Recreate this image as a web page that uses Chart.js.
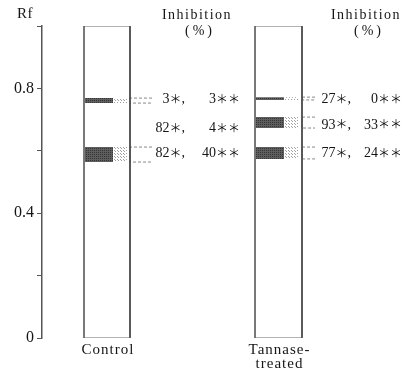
<!DOCTYPE html>
<html>
<head>
<meta charset="utf-8">
<script src="https://cdn.jsdelivr.net/npm/chart.js@4.4.1/dist/chart.umd.min.js"></script>
<style>
  html, body { margin: 0; padding: 0; background: #fff; }
  #wrap { width: 412px; height: 371px; }
</style>
</head>
<body>
<div id="wrap"><canvas id="tlc"></canvas></div>
<script>
// plates and their spots (Rf from .. to)
const plates = ['Control', 'Tannase-treated'];
const controlBands = [[0.753, 0.769], [0.564, 0.612]];
const tannaseBands = [[0.763, 0.772], [0.673, 0.708], [0.574, 0.612]];

// inhibition (%) labels, * and ** values, at the Rf they belong to
const controlRf = [0.765, 0.673, 0.592];
const controlInh1 = [3, 82, 82];
const controlInh2 = [3, 4, 40];
const tannaseRf = [0.765, 0.683, 0.592];
const tannaseInh1 = [27, 93, 77];
const tannaseInh2 = [0, 33, 24];

const rfTicks = [0, 0.4, 0.8];

// layout in x units (10 px each, from the axis)
const lanes = [
  { left: 4.2, right: 8.8, spotEnd: 7.1, dotEnd: 8.5, lead: 11.0, col1: 14.3, col2: 19.8, head: 197, names: ['Control'] },
  { left: 21.3, right: 26.0, spotEnd: 24.2, dotEnd: 25.6, lead: 27.3, col1: 30.9, col2: 36.0, head: 366, names: ['Tannase-', 'treated'] }
];

function stipple(bg, dot, step) {
  const c = document.createElement('canvas');
  c.width = step; c.height = step;
  const g = c.getContext('2d');
  g.fillStyle = bg; g.fillRect(0, 0, step, step);
  g.fillStyle = dot; g.fillRect(0, 0, 1, 1);
  if (step > 2) g.fillRect(Math.floor(step / 2), Math.floor(step / 2), 1, 1);
  return g.createPattern(c, 'repeat');
}
const darkSpot = stipple('#5e5e5e', '#353535', 2);
const faintSpot = stipple('#ffffff', '#a0a0a0', 3);

function rect(x0, x1, y0, y1) {
  return [{ x: x0, y: y0 }, { x: x1, y: y0 }, { x: x1, y: y1 }, { x: x0, y: y1 }, { x: x0, y: y0 }];
}

const datasets = [];
const bandSets = [controlBands, tannaseBands];
lanes.forEach((ln, i) => {
  datasets.push({ data: rect(ln.left, ln.right, 0, 1), borderColor: '#666', borderWidth: 1 });
  datasets.push({ data: [{ x: ln.right, y: 0 }, { x: ln.right, y: 1 }], borderColor: '#222', borderWidth: 1.6 });
  bandSets[i].forEach(b => {
    datasets.push({ data: rect(ln.left + 0.1, ln.spotEnd, b[0], b[1]), fill: 'shape', backgroundColor: darkSpot, borderWidth: 0 });
    datasets.push({ data: rect(ln.spotEnd + 0.1, ln.dotEnd, b[0], b[1]), fill: 'shape', backgroundColor: faintSpot, borderWidth: 0 });
    datasets.push({
      data: [{ x: ln.lead, y: b[1] }, { x: ln.right, y: b[1] }, { x: ln.right, y: b[0] }, { x: ln.lead, y: b[0] }],
      borderColor: '#888', borderWidth: 1, borderDash: [3, 2]
    });
  });
});
datasets.forEach(d => { d.showLine = true; d.pointRadius = 0; d.tension = 0; if (!d.fill) d.fill = false; });

const serif = '"Liberation Serif", "DejaVu Serif", serif';
const numFont = '14px ' + serif;
const starFont = '12px "Noto Sans CJK JP", sans-serif';

// draws pieces of text with their own fonts, right aligned at rx
function runRight(ctx, parts, rx, py) {
  let w = 0;
  parts.forEach(([t, f]) => { ctx.font = f; w += ctx.measureText(t).width; });
  let px = rx - w;
  ctx.textAlign = 'left';
  parts.forEach(([t, f]) => { ctx.font = f; ctx.fillText(t, px, py); px += ctx.measureText(t).width; });
}

const plateText = {
  id: 'plateText',
  afterDraw(chart) {
    const { ctx, scales: { x, y } } = chart;
    const spacing = v => { if ('letterSpacing' in ctx) ctx.letterSpacing = v; };
    ctx.save();
    ctx.fillStyle = '#151515';
    ctx.textBaseline = 'middle';
    const rows = [[controlRf, controlInh1, controlInh2], [tannaseRf, tannaseInh1, tannaseInh2]];
    rows.forEach(([rf, a, b], i) => {
      rf.forEach((v, j) => {
        const py = y.getPixelForValue(v);
        runRight(ctx, [[String(a[j]), numFont], ['\uFF0A', starFont], [',', numFont]], x.getPixelForValue(lanes[i].col1), py);
        runRight(ctx, [[String(b[j]), numFont], ['\uFF0A\uFF0A', starFont]], x.getPixelForValue(lanes[i].col2), py);
      });
    });
    ctx.textAlign = 'center';
    ctx.font = '14px ' + serif;
    lanes.forEach(ln => {
      spacing('1.5px');
      ctx.fillText('Inhibition', ln.head, 15);
      spacing('3px');
      ctx.fillText('(%)', ln.head + 3, 31);
    });
    spacing('0.5px');
    ctx.font = '15px ' + serif;
    ctx.fillText('Rf', 25, 14);
    spacing('1px');
    lanes.forEach(ln => {
      const cx = x.getPixelForValue((ln.left + ln.right) / 2);
      ln.names.forEach((t, k) => ctx.fillText(t, cx + 1, 350 + k * 14));
    });
    ctx.restore();
  }
};

new Chart(document.getElementById('tlc'), {
  type: 'scatter',
  data: { datasets: datasets },
  options: {
    responsive: true,
    maintainAspectRatio: false,
    animation: false,
    layout: { padding: { top: 26, bottom: 33, left: 0, right: 0 } },
    plugins: { legend: { display: false }, tooltip: { enabled: false } },
    scales: {
      x: { type: 'linear', min: 0, max: 37, display: false },
      y: {
        type: 'linear', min: 0, max: 1,
        border: { color: '#555', width: 1.5 },
        grid: { drawOnChartArea: false, tickLength: 5, color: '#555' },
        ticks: {
          stepSize: 0.2, padding: 3, color: '#151515',
          font: { family: serif, size: 16 },
          callback: v => rfTicks.some(t => Math.abs(t - v) < 1e-6) ? (v === 0 ? '0' : v.toFixed(1)) : ''
        },
        afterFit(s) { s.width = 42; }
      }
    }
  },
  plugins: [plateText]
});
</script>
</body>
</html>
